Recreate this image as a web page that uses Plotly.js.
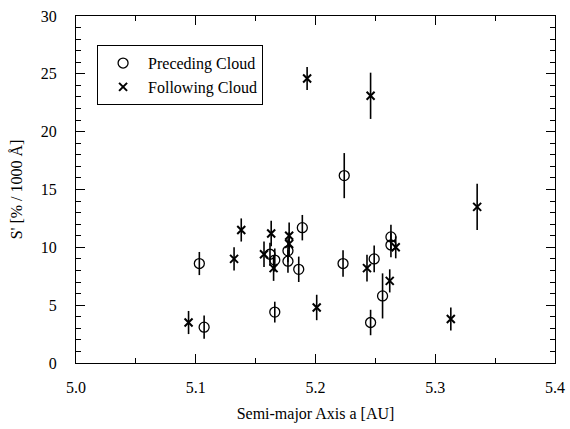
<!DOCTYPE html>
<html>
<head>
<meta charset="utf-8">
<script src="https://cdn.plot.ly/plotly-3.0.1.min.js"></script>
<style>html,body{margin:0;padding:0;background:#fff;}#chart{width:570px;height:429px;}</style>
</head>
<body>
<div id="chart"></div>
<script>
// Preceding Cloud (open circles)
const precA   = [5.103, 5.107, 5.162, 5.166, 5.166, 5.177, 5.177, 5.186, 5.189, 5.224, 5.223, 5.246, 5.249, 5.256, 5.263, 5.263];
const precS   = [8.6, 3.1, 9.4, 8.9, 4.4, 9.7, 8.8, 8.1, 11.7, 16.2, 8.6, 3.5, 9.0, 5.8, 10.9, 10.2];
const precErr = [1.0, 1.0, 1.0, 1.0, 0.9, 1.0, 1.0, 1.1, 1.1, 1.95, 1.15, 1.1, 1.15, 1.95, 1.05, 1.05];
// Following Cloud (crosses)
const follA   = [5.094, 5.132, 5.138, 5.157, 5.163, 5.165, 5.178, 5.178, 5.193, 5.201, 5.243, 5.246, 5.262, 5.267, 5.313, 5.335];
const follS   = [3.5, 9.0, 11.5, 9.4, 11.2, 8.2, 11.0, 10.3, 24.6, 4.8, 8.2, 23.1, 7.1, 10.0, 3.8, 13.5];
const follErr = [1.0, 1.0, 1.0, 1.1, 1.1, 1.1, 1.15, 1.0, 1.0, 1.1, 1.15, 2.0, 1.0, 0.95, 1.0, 2.0];
const xTicks = [5.0, 5.1, 5.2, 5.3, 5.4];
const xTickText = ['5.0', '5.1', '5.2', '5.3', '5.4'];
const yTicks = [0, 5, 10, 15, 20, 25, 30];

const FAM = 'Liberation Serif';
const f = (size) => ({family: FAM, size: size, color: '#000'});
const traces = [
  {
    x: precA, y: precS, name: 'Preceding Cloud', type: 'scatter', mode: 'markers',
    marker: {symbol: 'circle-open', size: 10, color: '#000', line: {width: 1.3, color: '#000'}},
    error_y: {type: 'data', array: precErr, visible: true, width: 0, thickness: 1.6, color: '#000'}
  },
  {
    x: follA, y: follS, name: 'Following Cloud', type: 'scatter', mode: 'markers',
    marker: {symbol: 'x-thin-open', size: 8, color: '#000', line: {width: 2, color: '#000'}},
    error_y: {type: 'data', array: follErr, visible: true, width: 0, thickness: 1.6, color: '#000'}
  }
];
const layout = {
  width: 570, height: 429,
  margin: {l: 76, r: 15, t: 16, b: 66},
  paper_bgcolor: '#fff', plot_bgcolor: '#fff',
  font: f(16),
  showlegend: true,
  legend: {
    x: 0.044, y: 0.916, xanchor: 'left', yanchor: 'top',
    bgcolor: '#fff', bordercolor: '#000', borderwidth: 1,
    font: f(16),
    itemwidth: 40, tracegroupgap: 0
  },
  xaxis: {
    range: [5.0, 5.4], tickvals: xTicks, ticktext: xTickText, tickfont: f(16),
    showgrid: false, zeroline: false, showline: true, linecolor: '#000', linewidth: 1,
    mirror: 'ticks', ticks: 'inside', ticklen: 9, tickwidth: 1, tickcolor: '#000',
    ticklabelstandoff: 10,
    minor: {dtick: 0.05, tick0: 5.0, ticks: 'inside', ticklen: 5, tickwidth: 1, tickcolor: '#000', showgrid: false},
    title: {text: 'Semi-major Axis a [AU]', font: f(16), standoff: 12}
  },
  yaxis: {
    range: [0, 30], tickvals: yTicks, tickfont: f(16),
    showgrid: false, zeroline: false, showline: true, linecolor: '#000', linewidth: 1,
    mirror: 'ticks', ticks: 'inside', ticklen: 9, tickwidth: 1, tickcolor: '#000',
    ticklabelstandoff: 15,
    minor: {dtick: 1, tick0: 0, ticks: 'inside', ticklen: 5, tickwidth: 1, tickcolor: '#000', showgrid: false},
    title: {text: "S' [% / 1000 Å]", font: f(16), standoff: 14}
  }
};
Plotly.newPlot('chart', traces, layout, {displayModeBar: false, staticPlot: true});
</script>
</body>
</html>
